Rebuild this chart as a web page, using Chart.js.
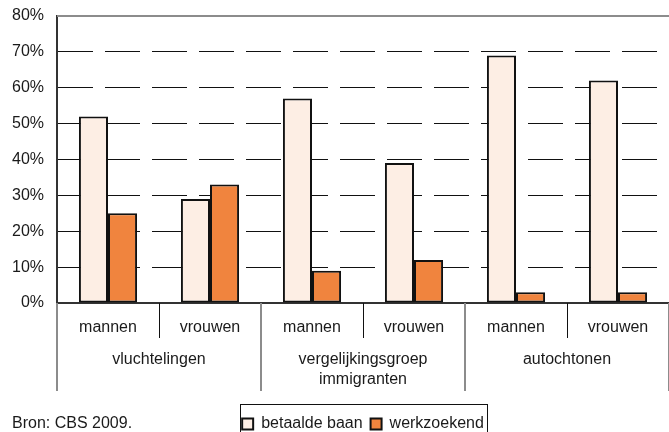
<!DOCTYPE html>
<html>
<head>
<meta charset="utf-8">
<script src="https://cdn.jsdelivr.net/npm/chart.js@4"></script>
<style>
  html, body { margin: 0; padding: 0; background: #fff; }
  #wrap { width: 669px; height: 432px; }
</style>
</head>
<body>
<div id="wrap"><canvas id="chart"></canvas></div>
<script>
const categories = ["mannen", "vrouwen", "mannen", "vrouwen", "mannen", "vrouwen"];
const groups = [["vluchtelingen"], ["vergelijkingsgroep", "immigranten"], ["autochtonen"]];
const betaaldeBaan = [52, 29, 57, 39, 69, 62];
const werkzoekend = [25, 33, 9, 12, 3, 3];
const yTicks = [0, 10, 20, 30, 40, 50, 60, 70, 80];

const FONT = "'Liberation Sans', Arial, sans-serif";

// separators, group names, top line, legend frame and source line
const extras = {
  id: "extras",
  afterDraw(chart) {
    const ctx = chart.ctx;
    const x = chart.scales.x;
    const y = chart.scales.y;
    const area = chart.chartArea;
    const step = x.getPixelForValue(1) - x.getPixelForValue(0);
    ctx.save();

    // top 80% line
    ctx.strokeStyle = "#8c8c8c";
    ctx.lineWidth = 2;
    ctx.beginPath();
    ctx.moveTo(area.left, y.getPixelForValue(80));
    ctx.lineTo(area.right, y.getPixelForValue(80));
    ctx.stroke();

    // category separators
    for (let i = 0; i <= categories.length; i++) {
      const px = Math.round(x.getPixelForValue(i) - step / 2);
      ctx.beginPath();
      if (i % 2 === 1) {
        ctx.strokeStyle = "#111";
        ctx.lineWidth = 1;
        ctx.moveTo(px + 0.5, area.bottom);
        ctx.lineTo(px + 0.5, area.bottom + 35);
      } else {
        ctx.strokeStyle = "#8c8c8c";
        ctx.lineWidth = 2;
        ctx.moveTo(px, area.bottom);
        ctx.lineTo(px, area.bottom + 88);
      }
      ctx.stroke();
    }

    // group labels
    ctx.fillStyle = "#1a1a1a";
    ctx.font = "16px " + FONT;
    ctx.textAlign = "center";
    ctx.textBaseline = "middle";
    groups.forEach((lines, g) => {
      const cx = (x.getPixelForValue(g * 2) + x.getPixelForValue(g * 2 + 1)) / 2;
      lines.forEach((t, k) => ctx.fillText(t, cx, area.bottom + 57 + k * 20));
    });

    // legend frame
    const lg = chart.legend;
    if (lg && lg.legendHitBoxes.length) {
      const first = lg.legendHitBoxes[0];
      const last = lg.legendHitBoxes[lg.legendHitBoxes.length - 1];
      ctx.strokeStyle = "#111";
      ctx.lineWidth = 1;
      const l = Math.round(first.left) - 1.5;
      const r = Math.round(last.left + last.width) + 3.5;
      ctx.strokeRect(l, Math.round(first.top) - 11.5, r - l, 50);
    }

    // source
    ctx.textAlign = "left";
    ctx.fillText("Bron: CBS 2009.", 12, 424);
    ctx.restore();
  }
};

new Chart(document.getElementById("chart"), {
  type: "bar",
  data: {
    labels: categories,
    datasets: [
      {
        label: "betaalde baan",
        data: betaaldeBaan,
        backgroundColor: "#fdeee4",
        borderColor: "#111",
        borderWidth: 2,
        borderSkipped: false,
        categoryPercentage: 0.57,
        barPercentage: 1
      },
      {
        label: "werkzoekend",
        data: werkzoekend,
        backgroundColor: "#f0843e",
        borderColor: "#111",
        borderWidth: 2,
        borderSkipped: false,
        categoryPercentage: 0.57,
        barPercentage: 1
      }
    ]
  },
  options: {
    responsive: true,
    maintainAspectRatio: false,
    animation: false,
    layout: { padding: { top: 16, right: 0, left: 0, bottom: -10 } },
    plugins: {
      tooltip: { enabled: false },
      legend: {
        position: "bottom",
        fullSize: false,
        labels: {
          font: { family: FONT, size: 16 },
          color: "#1a1a1a",
          boxWidth: 11,
          boxHeight: 11,
          padding: 8,
          generateLabels(chart) {
            return chart.data.datasets.map((ds, i) => ({
              text: ds.label,
              fillStyle: ds.backgroundColor,
              strokeStyle: "#111",
              lineWidth: 2,
              datasetIndex: i,
              fontColor: "#1a1a1a"
            }));
          }
        }
      }
    },
    scales: {
      x: {
        afterFit(scale) { scale.height = 105; },
        grid: { display: false, drawTicks: false },
        border: { color: "#333", width: 2 },
        ticks: {
          font: { family: FONT, size: 16 },
          color: "#1a1a1a",
          padding: 15,
          maxRotation: 0
        }
      },
      y: {
        min: 0,
        max: 80,
        afterFit(scale) {
          scale.width = 57;
          scale.paddingTop = 0;
          scale.paddingBottom = 0;
        },
        afterBuildTicks(scale) { scale.ticks = yTicks.map(v => ({ value: v })); },
        grid: {
          drawTicks: false,
          color: ctx => (ctx.tick && (ctx.tick.value === 0 || ctx.tick.value === 80)) ? "rgba(0,0,0,0)" : "#111",
          lineWidth: 1
        },
        border: { color: "#333", width: 2, dash: [35, 12] },
        ticks: {
          font: { family: FONT, size: 16 },
          color: "#1a1a1a",
          padding: 13,
          callback: v => v + "%"
        }
      }
    }
  },
  plugins: [extras]
});
</script>
</body>
</html>
